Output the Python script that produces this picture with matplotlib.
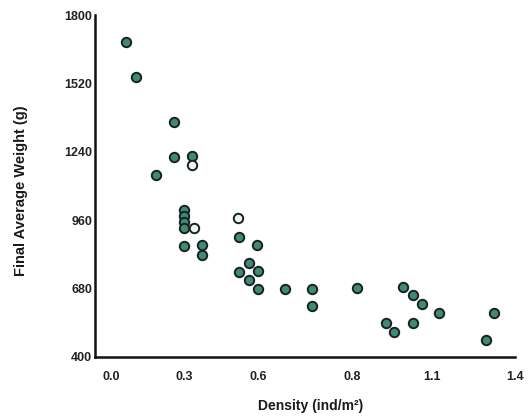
import numpy as np
import matplotlib
matplotlib.use("Agg")
import matplotlib.pyplot as plt

# density (ind/m2) and final average weight (g)
density = [0.051, 0.086, 0.216, 0.216, 0.278, 0.154,
           0.251, 0.251, 0.251, 0.251, 0.251, 0.312, 0.312,
           0.443, 0.504, 0.477, 0.443, 0.508, 0.477, 0.508,
           0.601, 0.697, 0.697, 0.851, 1.012, 1.047, 1.078,
           1.136, 0.951, 0.981, 1.047, 1.301, 1.328]
weight = [1690, 1546, 1362, 1219, 1223, 1145,
          1002, 977, 953, 928, 854, 858, 817,
          891, 858, 785, 748, 752, 715, 678,
          678, 678, 609, 682, 686, 654, 617,
          580, 539, 502, 539, 469, 580]

# open (white) markers
density_open = [0.278, 0.285, 0.439]
weight_open = [1186, 928, 969]

xtick_pos = [0.0, 0.251, 0.508, 0.834, 1.112, 1.4]
xtick_labels = ["0.0", "0.3", "0.6", "0.8", "1.1", "1.4"]
ytick_vals = [400, 680, 960, 1240, 1520, 1800]

plt.rcParams['font.family'] = ['Liberation Sans', 'DejaVu Sans']

fig = plt.figure(figsize=(5.28, 4.17), dpi=100)
ax = fig.add_axes([0.180, 0.144, 0.795, 0.820])

ax.scatter(density, weight, s=46, c='#3f8a77', edgecolors='#18211f',
           linewidths=1.4, zorder=3)
ax.scatter(density_open, weight_open, s=46, c='#eef4f2', edgecolors='#18211f',
           linewidths=1.4, zorder=3)

ax.set_xlim(-0.058, 1.383)
ax.set_ylim(400, 1800)
ax.set_xticks(xtick_pos)
ax.set_xticklabels(xtick_labels)
ax.set_yticks(ytick_vals)

for s in ['top', 'right']:
    ax.spines[s].set_visible(False)
for s in ['left', 'bottom']:
    ax.spines[s].set_linewidth(1.8)
    ax.spines[s].set_color('#111111')

ax.tick_params(axis='x', length=0, pad=10, labelsize=9, labelcolor='#222222')
ax.tick_params(axis='y', length=0, pad=2, labelsize=9, labelcolor='#222222')
for lab in ax.get_xticklabels() + ax.get_yticklabels():
    lab.set_fontweight('bold')

ax.set_xlabel('Density (ind/m²)', fontsize=10, fontweight='bold', color='#1a1a1a')
ax.set_ylabel('Final Average Weight (g)', fontsize=10.5, fontweight='bold', color='#1a1a1a')
ax.xaxis.set_label_coords(0.514, -0.122)
ax.yaxis.set_label_coords(-0.16, 0.485)

fig.savefig('out.png', dpi=100)
